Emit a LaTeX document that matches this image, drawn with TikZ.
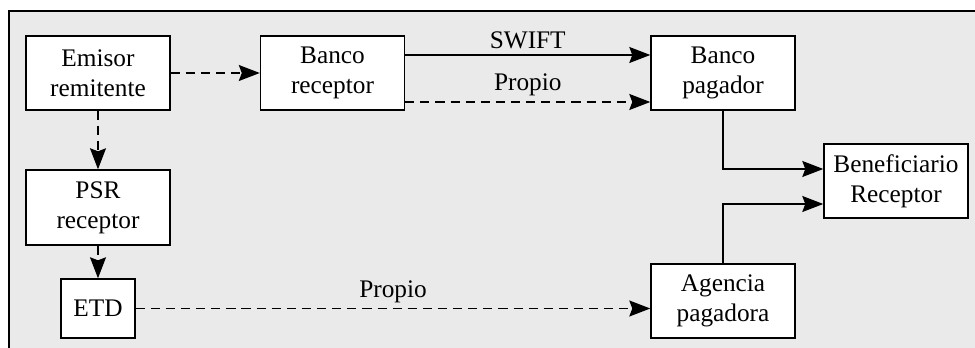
\documentclass[tikz,border=0pt]{standalone}
\usepackage{fontspec}
\setmainfont{Liberation Serif}
\usetikzlibrary{positioning,calc}
\usetikzlibrary{arrows.meta}
\definecolor{fondo}{HTML}{E9EAE9}

\begin{document}
\begin{tikzpicture}[>={Stealth[length=4.2mm,width=3.2mm,inset=0.6mm]}, thick,
	caja/.style={draw, fill=white, minimum width=2.88cm, minimum height=1.48cm, align=center, inner sep=0pt, font=\fontsize{14.4}{17}\selectfont},
	etiq/.style={font=\fontsize{14.4}{17}\selectfont, inner sep=3pt},
	trazos/.style={dash pattern=on 5.2pt off 3.4pt}]
\useasboundingbox (0, 0) rectangle (19.5, 6.96);
\fill [fondo] (0.18, 0) rectangle (19.5, 6.74);
\draw [line width=1.1pt] (0.18, 0) -- (0.18, 6.74) -- (19.5, 6.74);

% fila de arriba
\node [caja] (emisor) at (1.96, 5.50) {Emisor\\remitente};
\node [caja] (bancorec) at (6.65, 5.50) {Banco\\receptor};
\node [caja] (bancopag) at (14.46, 5.50) {Banco\\pagador};
\node [caja] (benef) at (17.92, 3.34) {Beneficiario\\Receptor};

% columna izquierda
\node [caja, minimum height=1.50cm] (psr) at (1.96, 2.81) {PSR\\receptor};
\node [caja, minimum width=1.48cm, minimum height=1.18cm] (etd) at (1.96, 0.79) {ETD};
\node [caja] (agencia) at (14.46, 0.94) {Agencia\\pagadora};

\draw [->, trazos] (emisor) -- (bancorec);
\draw [->, trazos] (emisor) -- (psr);
\draw [->, trazos] (psr) -- (etd);

\draw [->] ([yshift=0.36cm]bancorec.east) -- node [etiq, above] {SWIFT} ([yshift=0.36cm]bancopag.west);
\draw [->, trazos] ([yshift=-0.58cm]bancorec.east) -- node [etiq, above] {Propio} ([yshift=-0.58cm]bancopag.west);
\draw [->, trazos] (etd.east) -- node [etiq, above] {Propio} (etd.east -| agencia.west);

\draw [->] (bancopag.south) |- ([yshift=0.24cm]benef.west);
\draw [->] (agencia.north) |- ([yshift=-0.46cm]benef.west);

\end{tikzpicture}
\end{document}
